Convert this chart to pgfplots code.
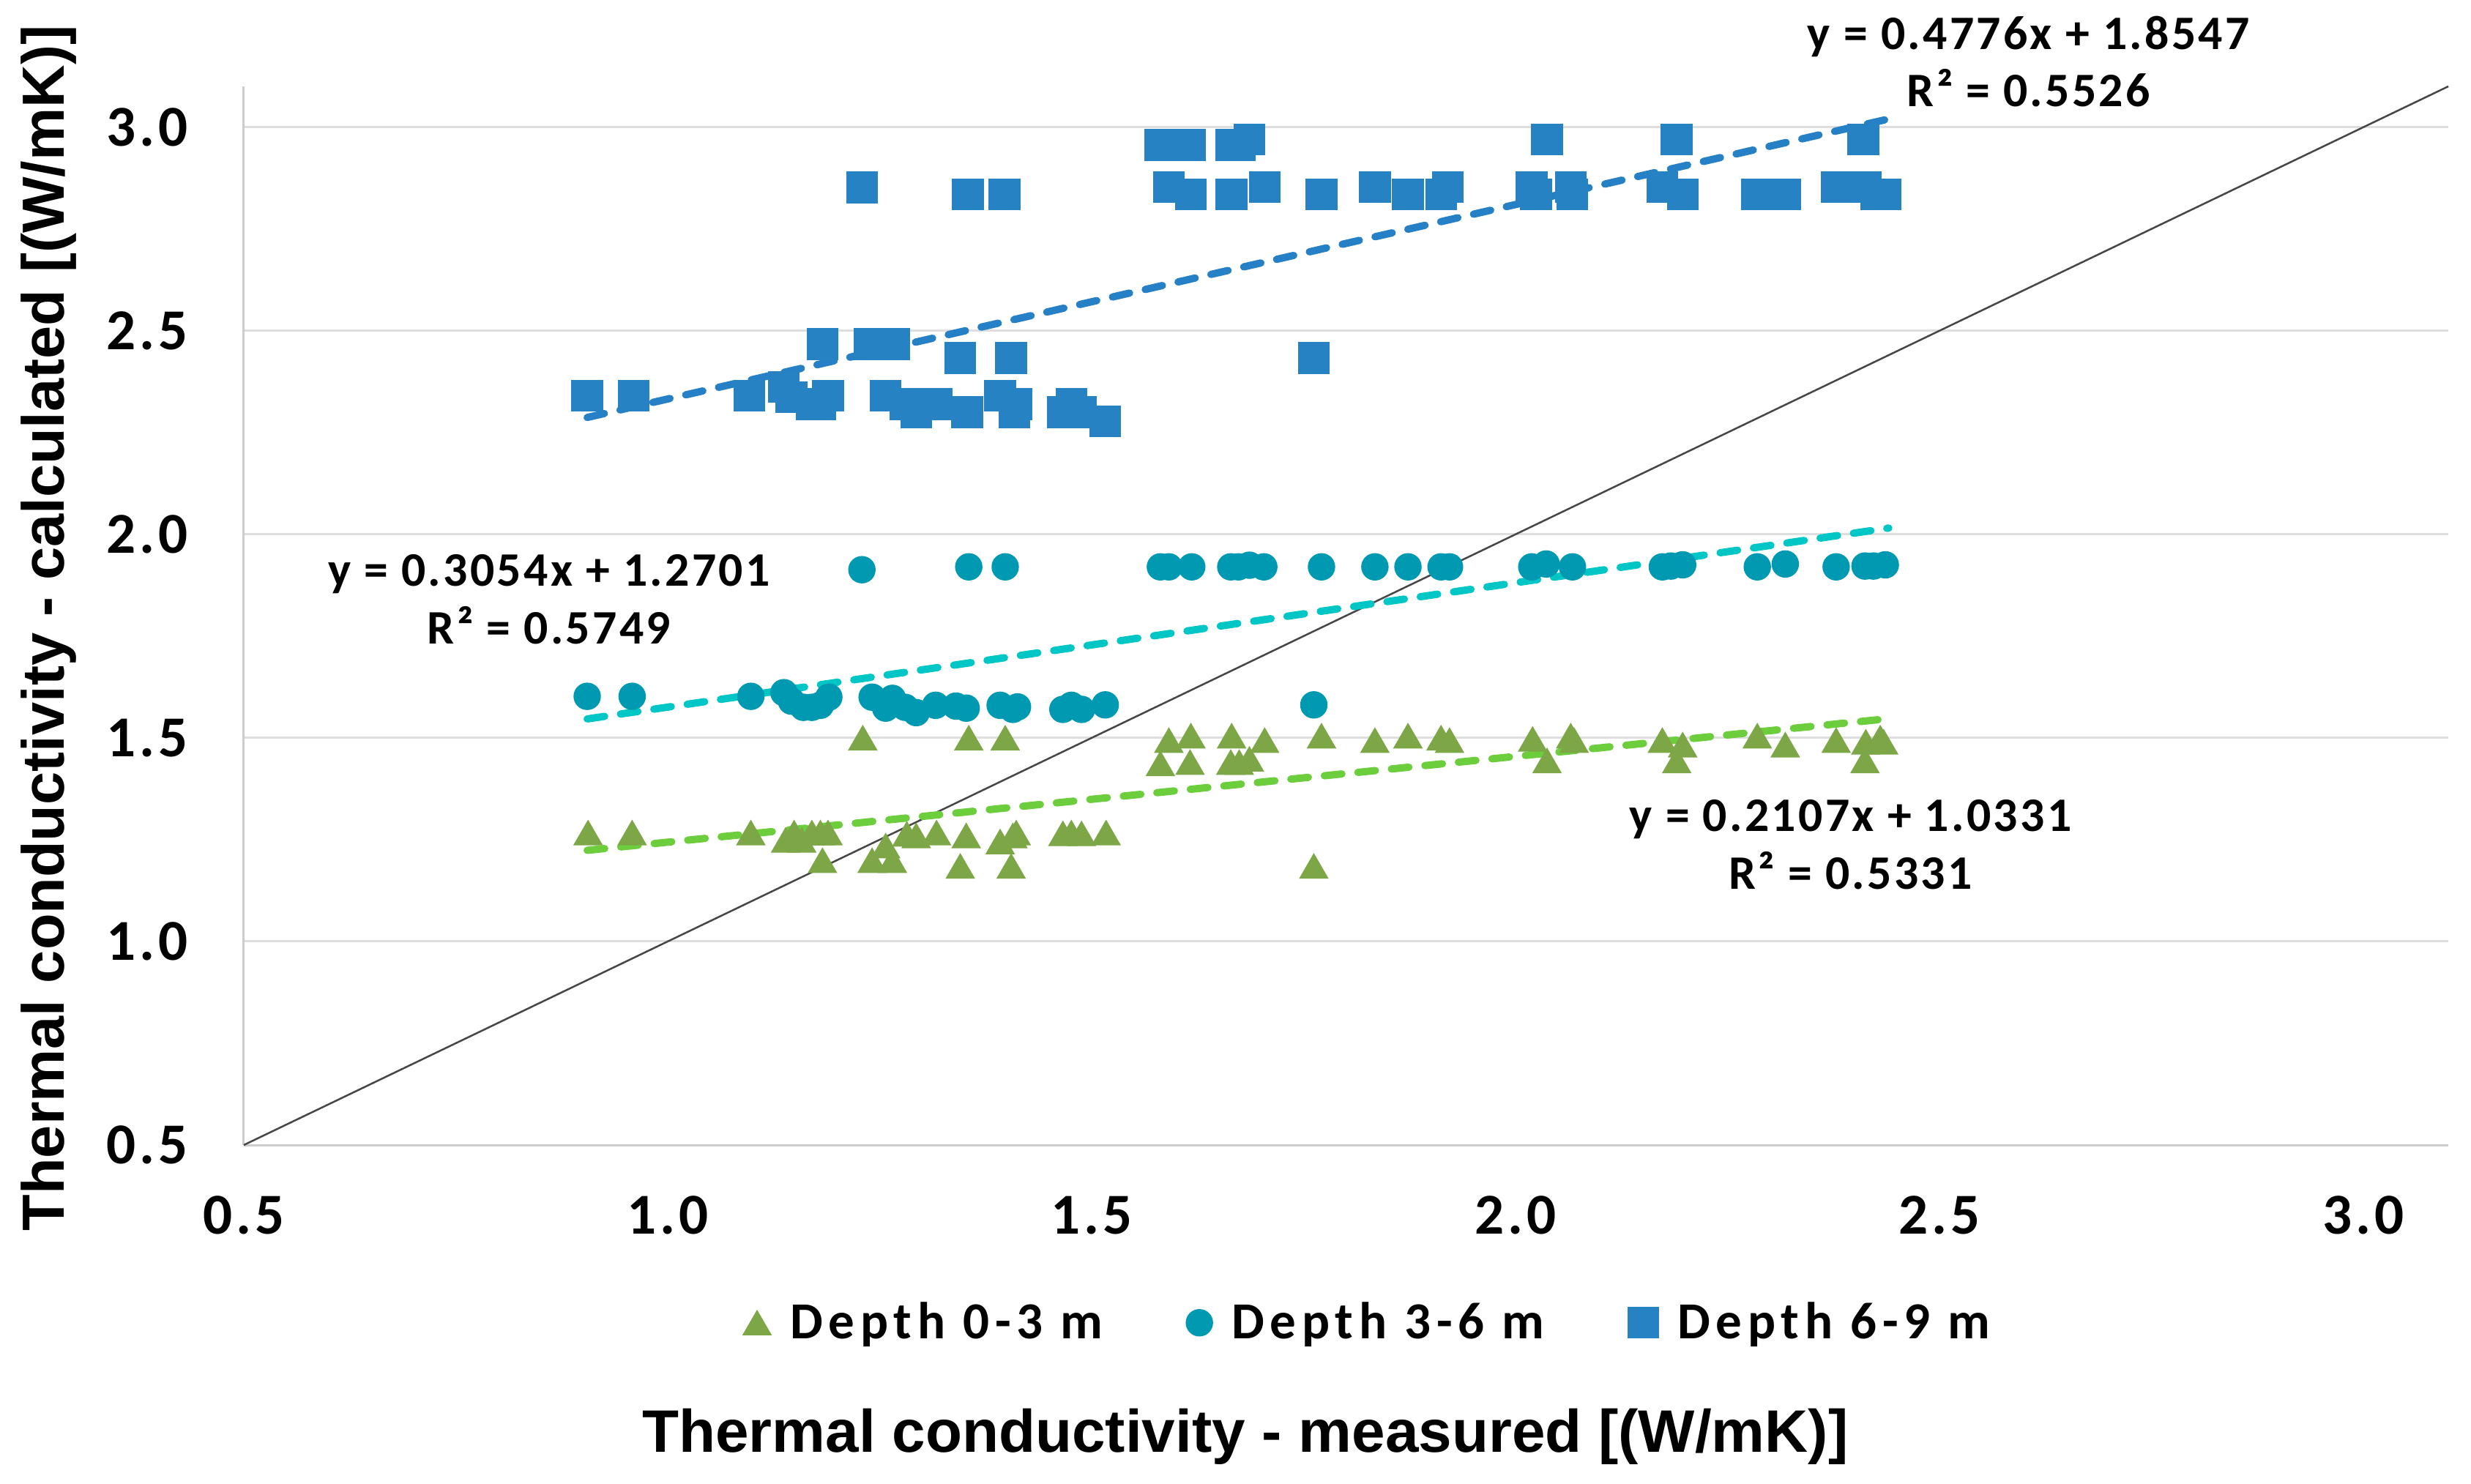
\documentclass[border=0pt]{standalone}
\usepackage{pgfplots}
\pgfplotsset{compat=1.18}
\usepackage{fontspec}
\setmainfont{Carlito}
\newfontfamily\tickfont{Carlito}[LetterSpace=6]
\newfontfamily\legfont{Carlito}[LetterSpace=11]
\newfontfamily\annfont{Carlito}[LetterSpace=5]
\newfontfamily\titlefont{Liberation Sans}
\definecolor{sqblue}{RGB}{38,130,194}
\definecolor{circteal}{RGB}{0,153,178}
\definecolor{trigreen}{RGB}{125,166,71}
\definecolor{trendblue}{RGB}{38,128,198}
\definecolor{trendcyan}{RGB}{0,198,198}
\definecolor{trendgreen}{RGB}{108,206,60}
\definecolor{gridgray}{RGB}{222,222,222}
\definecolor{axgray}{RGB}{205,205,205}
\definecolor{diag}{RGB}{70,70,70}
\pgfplotsset{mylegimg/.style={legend image code/.code={\draw[##1] plot coordinates {(0mm,2.2mm)};}}}
\begin{document}
\begin{tikzpicture}
\path[use as bounding box] (0,0) rectangle (337.5mm,202.6mm);
\begin{axis}[
  at={(33.3mm,46.2mm)}, anchor=south west,
  scale only axis, width=301.1mm, height=144.6mm,
  xmin=0.5, xmax=3.1, ymin=0.5, ymax=3.1,
  xtick={0.5,1.0,1.5,2.0,2.5,3.0}, ytick={0.5,1.0,1.5,2.0,2.5,3.0},
  axis x line=bottom, axis y line=left,
  x axis line style={-, draw=axgray, line width=0.3mm},
  y axis line style={-, draw=axgray, line width=0.3mm},
  ymajorgrids, grid style={draw=gridgray, line width=0.3mm},
  major tick length=0pt,
  clip=false,
  tick label style={font=\tickfont\bfseries\fontsize{22.5}{27}\selectfont, inner sep=0pt},
  /pgf/number format/.cd, fixed, fixed zerofill, precision=1, assume math mode=true, /pgfplots/.cd,
  xticklabel style={anchor=base, yshift=-12.1mm},
  yticklabel style={anchor=east, xshift=-7.6mm},
  xlabel={Thermal conductivity - measured [(W/mK)]},
  ylabel={Thermal conductivity - calculated [(W/mK)]},
  xlabel style={at={(axis description cs:0.4543,-0.2898)}, anchor=base, inner sep=0pt, font=\titlefont\bfseries\fontsize{23.3}{28}\selectfont},
  ylabel style={at={(axis description cs:-0.08137,0.4882)}, anchor=base, inner sep=0pt, font=\titlefont\bfseries\fontsize{23.1}{28}\selectfont},
  legend columns=3,
  legend style={at={(axis description cs:0.2265,-0.1677)}, anchor=west, draw=none, fill=none, inner sep=0pt, outer sep=0pt,
    font=\legfont\bfseries\fontsize{20.2}{24}\selectfont,
    nodes={inner sep=0pt, anchor=base west},
    /tikz/every odd column/.append style={column sep=2.6mm},
    /tikz/every even column/.append style={column sep=11.4mm}},
]
\addplot[only marks, mark=triangle*, mark size=2.2mm, color=trigreen, mark options={yshift=-0.55mm}, mylegimg] coordinates {
(0.906,1.267) (0.958,1.267) (1.098,1.267) (1.139,1.249) (1.149,1.267) (1.158,1.249) (1.17,1.267) (1.18,1.267) (1.189,1.267) (1.1825,1.199)
(1.23,1.50) (1.241,1.199) (1.257,1.235) (1.265,1.199) (1.282,1.264) (1.293,1.26) (1.317,1.267) (1.345,1.185) (1.352,1.26) (1.355,1.50)
(1.392,1.245) (1.398,1.50) (1.405,1.185) (1.407,1.26) (1.411,1.267) (1.466,1.265) (1.476,1.267) (1.488,1.265) (1.517,1.267)
(1.581,1.437) (1.591,1.494) (1.616,1.44) (1.617,1.505) (1.664,1.44) (1.665,1.505) (1.674,1.44) (1.686,1.448) (1.704,1.494) (1.762,1.185)
(1.771,1.505) (1.834,1.494) (1.873,1.505) (1.912,1.50) (1.922,1.494)
(2.02,1.497) (2.037,1.444) (2.065,1.505) (2.069,1.494) (2.173,1.494) (2.19,1.444) (2.197,1.483) (2.285,1.505) (2.318,1.483) (2.378,1.494)
(2.412,1.444) (2.413,1.49) (2.434,1.49) (2.43,1.50)
};
\addlegendentry{Depth 0-3 m}
\addplot[only marks, mark=*, mark size=1.8mm, color=circteal, mylegimg] coordinates {
(0.905,1.602) (0.958,1.602) (1.098,1.602) (1.137,1.611) (1.146,1.59) (1.16,1.575) (1.17,1.575) (1.18,1.58) (1.19,1.60) (1.229,1.913)
(1.241,1.60) (1.265,1.597) (1.257,1.573) (1.28,1.575) (1.293,1.562) (1.316,1.58) (1.34,1.578) (1.352,1.573) (1.355,1.92) (1.392,1.58)
(1.398,1.92) (1.407,1.57) (1.4125,1.576) (1.466,1.57) (1.476,1.58) (1.488,1.57) (1.516,1.581)
(1.581,1.92) (1.591,1.92) (1.618,1.92) (1.664,1.92) (1.673,1.92) (1.686,1.924) (1.703,1.92) (1.762,1.581) (1.771,1.92) (1.834,1.92)
(1.873,1.92) (1.912,1.92) (1.922,1.92)
(2.019,1.92) (2.036,1.927) (2.067,1.92) (2.173,1.92) (2.183,1.922) (2.197,1.925) (2.285,1.92) (2.318,1.927) (2.378,1.92) (2.412,1.922)
(2.422,1.922) (2.436,1.925)
};
\addlegendentry{Depth 3-6 m}
\addplot[only marks, mark=square*, mark size=2.1mm, color=sqblue, mylegimg] coordinates {
(0.905,2.34) (0.96,2.34) (1.096,2.34) (1.137,2.362) (1.146,2.337) (1.17,2.32) (1.18,2.32) (1.189,2.34) (1.1825,2.467) (1.238,2.467)
(1.267,2.467) (1.229,2.852) (1.257,2.34) (1.28,2.32) (1.293,2.30) (1.317,2.32) (1.353,2.30) (1.345,2.433) (1.354,2.835) (1.392,2.34)
(1.397,2.835) (1.405,2.433) (1.409,2.30) (1.411,2.32) (1.466,2.30) (1.476,2.32) (1.487,2.30) (1.516,2.277)
(1.581,2.956) (1.60,2.956) (1.616,2.956) (1.665,2.956) (1.675,2.956) (1.686,2.97) (1.591,2.853) (1.617,2.835) (1.665,2.835) (1.704,2.853)
(1.771,2.835) (1.762,2.433) (1.834,2.853) (1.873,2.835) (1.912,2.835) (1.92,2.853)
(2.019,2.853) (2.024,2.835) (2.037,2.97) (2.065,2.853) (2.067,2.835) (2.173,2.853) (2.19,2.97) (2.197,2.835) (2.285,2.835) (2.318,2.835)
(2.379,2.853) (2.41,2.97) (2.413,2.853) (2.425,2.835) (2.436,2.835)
};
\addlegendentry{Depth 6-9 m}
\addplot[forget plot, diag, line width=0.25mm] coordinates {(0.5,0.5) (3.1,3.1)};
\addplot[forget plot, trendgreen, line width=1mm, dash pattern=on 2.4mm off 2.2mm, line cap=round] coordinates {(0.905,1.2238) (2.44,1.5472)};
\addplot[forget plot, trendcyan, line width=1mm, dash pattern=on 2.4mm off 2.2mm, line cap=round] coordinates {(0.905,1.5465) (2.44,2.0153)};
\addplot[forget plot, trendblue, line width=1mm, dash pattern=on 2.4mm off 2.2mm, line cap=round] coordinates {(0.905,2.2869) (2.44,3.0200)};
\tikzset{ann/.style={font=\annfont\bfseries\fontsize{18.7}{22}\selectfont, anchor=base, inner sep=0pt}}
\node[ann] at (axis cs:2.605,3.190) {y = 0.4776x + 1.8547};
\node[ann] at (axis cs:2.605,3.050) {R² = 0.5526};
\node[ann] at (axis cs:0.860,1.873) {y = 0.3054x + 1.2701};
\node[ann] at (axis cs:0.860,1.731) {R² = 0.5749};
\node[ann] at (axis cs:2.395,1.271) {y = 0.2107x + 1.0331};
\node[ann] at (axis cs:2.395,1.128) {R² = 0.5331};
\end{axis}
\end{tikzpicture}
\end{document}
